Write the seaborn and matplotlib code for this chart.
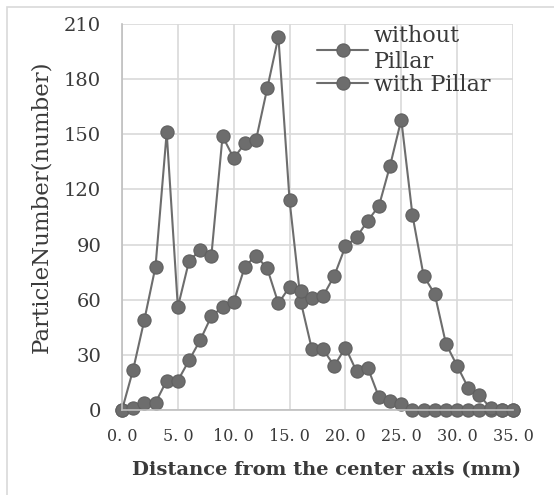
import matplotlib
matplotlib.use("Agg")
import matplotlib.pyplot as plt
import seaborn as sns
import pandas as pd
import numpy as np
from matplotlib.patches import Rectangle

# --- dados ---
distance = list(range(0, 36))
without_pillar = [0, 22, 49, 78, 151, 56, 81, 87, 84, 149, 137, 145, 147, 175, 203, 114,
                  59, 33, 33, 24, 34, 21, 23, 7, 5, 3, 0, 0, 0, 0, 0, 0, 0, 0, 0, 0]
with_pillar = [0, 1, 4, 4, 16, 16, 27, 38, 51, 56, 59, 78, 84, 77, 58, 67,
               65, 61, 62, 73, 89, 94, 103, 111, 133, 158, 106, 73, 63, 36, 24, 12, 8, 1, 0, 0]
series_names = ["without\nPillar", "with Pillar"]
x_ticks = [0, 5, 10, 15, 20, 25, 30, 35]
x_tick_labels = ["0. 0", "5. 0", "10. 0", "15. 0", "20. 0", "25. 0", "30. 0", "35. 0"]
y_ticks = [0, 30, 60, 90, 120, 150, 180, 210]

df = pd.DataFrame({
    "distance": distance * 2,
    "count": without_pillar + with_pillar,
    "series": [series_names[0]] * len(distance) + [series_names[1]] * len(distance),
})

sns.set_theme(style="whitegrid")
plt.rcParams["font.family"] = ["DejaVu Serif", "Liberation Serif"]
text_color = "#3a3a3a"
gray = "#6d6d6d"

fig = plt.figure(figsize=(5.54, 4.95), dpi=100)
ax = fig.add_axes([122 / 554, 1 - 410 / 495, 391 / 554, 386 / 495])

sns.lineplot(data=df, x="distance", y="count", hue="series", hue_order=series_names,
             palette=[gray, gray], marker="o", markersize=9.5, markeredgecolor="#606060",
             markeredgewidth=0.8, linewidth=1.5, ax=ax, clip_on=False)

ax.set_xlim(0, 35)
ax.set_ylim(0, 210)
ax.set_xticks(x_ticks)
ax.set_xticklabels(x_tick_labels)
ax.set_yticks(y_ticks)
ax.grid(True, color="#d9d9d9", linewidth=1.2)
ax.set_facecolor("white")
for side in ["top", "right"]:
    ax.spines[side].set_visible(False)
for side in ["left", "bottom"]:
    ax.spines[side].set_color("#bfbfbf")
    ax.spines[side].set_linewidth(1.2)
ax.tick_params(axis="y", labelsize=14, colors=text_color, pad=15, length=0)
ax.tick_params(axis="x", labelsize=11.5, colors=text_color, pad=13, length=0)

ax.set_xlabel("Distance from the center axis (mm)", fontsize=14, fontweight="bold",
              color=text_color)
ax.xaxis.set_label_coords(0.522, -0.133)
ax.set_ylabel("ParticleNumber(number)", fontsize=16.5, color=text_color)
ax.yaxis.set_label_coords(-0.179, 0.526)

ax.legend(loc="upper left", bbox_to_anchor=(0.476, 1.02), frameon=False, fontsize=16,
          handlelength=2.3, handletextpad=0.26, labelspacing=0.05, borderaxespad=0)
for t in ax.get_legend().get_texts():
    t.set_color(text_color)
    t.set_linespacing(1.2)

# moldura do gráfico
fig.patches.append(Rectangle((7 / 554, -0.02), 1.0, 1 - 7 / 495 + 0.02, transform=fig.transFigure,
                             fill=False, edgecolor="#d9d9d9", linewidth=1.2))

fig.savefig("out.png", dpi=100)
plt.close(fig)
